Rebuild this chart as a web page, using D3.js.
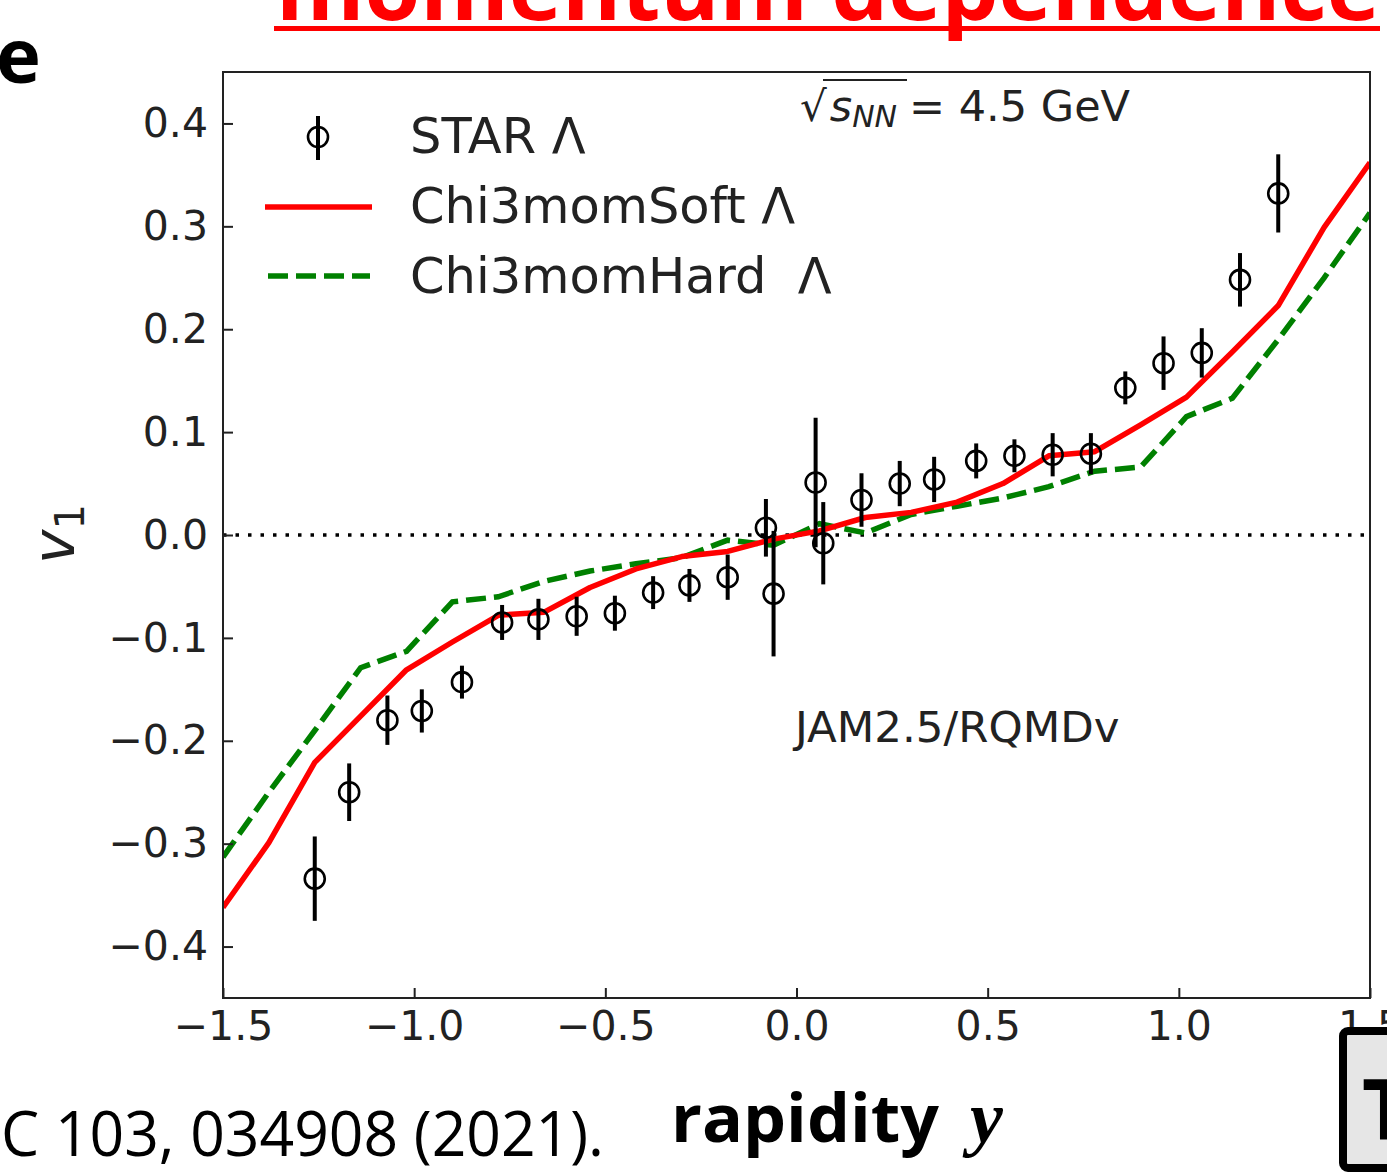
<!DOCTYPE html>
<html>
<head>
<meta charset="utf-8">
<script src="https://cdn.jsdelivr.net/npm/d3@7"></script>
<style>
  body { margin: 0; background: #fff; }
  svg { display: block; }
</style>
</head>
<body>
<div id="viz"></div>
<script>
// STAR Lambda v1 data
var starY   = [-1.26, -1.17, -1.07, -0.98, -0.875, -0.77, -0.675, -0.575, -0.475, -0.375, -0.28, -0.18, -0.08, -0.06,
               0.05, 0.07, 0.17, 0.27, 0.36, 0.47, 0.57, 0.67, 0.77, 0.86, 0.96, 1.06, 1.16, 1.26];
var starV1  = [-0.334, -0.250, -0.180, -0.171, -0.143, -0.085, -0.082, -0.079, -0.076, -0.056, -0.049, -0.041, 0.007, -0.057,
               0.051, -0.008, 0.034, 0.050, 0.054, 0.072, 0.077, 0.078, 0.079, 0.143, 0.167, 0.177, 0.248, 0.332];
var starErr = [0.041, 0.028, 0.024, 0.021, 0.016, 0.017, 0.020, 0.019, 0.017, 0.016, 0.016, 0.022, 0.028, 0.061,
               0.063, 0.040, 0.026, 0.022, 0.022, 0.017, 0.016, 0.021, 0.020, 0.016, 0.026, 0.024, 0.026, 0.038];

// model curves
var modelY = [-1.5, -1.38, -1.26, -1.14, -1.02, -0.9, -0.78, -0.66, -0.54, -0.42, -0.3, -0.18, -0.06,
              0.06, 0.18, 0.3, 0.42, 0.54, 0.66, 0.78, 0.9, 1.02, 1.14, 1.26, 1.38, 1.5];
var softV1 = [-0.362, -0.299, -0.221, -0.176, -0.131, -0.104, -0.078, -0.075, -0.051, -0.033, -0.021, -0.016, -0.004,
              0.004, 0.017, 0.022, 0.032, 0.050, 0.077, 0.081, 0.107, 0.134, 0.178, 0.223, 0.299, 0.362];
var hardV1 = [-0.313, -0.250, -0.190, -0.129, -0.113, -0.065, -0.060, -0.045, -0.035, -0.028, -0.022, -0.005, -0.010,
              0.011, 0.002, 0.020, 0.028, 0.036, 0.047, 0.062, 0.066, 0.115, 0.133, 0.190, 0.250, 0.313];

var xTicks = [-1.5, -1.0, -0.5, 0.0, 0.5, 1.0, 1.5];
var yTicks = [-0.4, -0.3, -0.2, -0.1, 0.0, 0.1, 0.2, 0.3, 0.4];

var W = 1387, H = 1176;
var L = 223, R = 1370, T = 72, B = 998;
var font = 'DejaVu Sans, sans-serif';
var slideFont = '"Open Sans", "Noto Sans", sans-serif';

var svg = d3.select('#viz').append('svg')
  .attr('width', W).attr('height', H);

svg.append('rect').attr('width', W).attr('height', H).attr('fill', '#fff');

var x = d3.scaleLinear().domain([-1.5, 1.5]).range([L, R]);
var y = d3.scaleLinear().domain([-0.45, 0.45]).range([B, T]);

// slide text around the plot
svg.append('text')
  .attr('x', 276).attr('y', 20)
  .attr('textLength', 1104).attr('lengthAdjust', 'spacingAndGlyphs')
  .style('font-family', slideFont).style('font-weight', 'bold')
  .style('font-size', '88px').attr('fill', '#ff0000')
  .text('momentum dependence');
svg.append('rect').attr('x', 274).attr('y', 26).attr('width', 1106).attr('height', 5).attr('fill', '#ff0000');

svg.append('text')
  .attr('x', -4).attr('y', 83)
  .style('font-family', slideFont).style('font-weight', 'bold')
  .style('font-size', '76px').attr('fill', '#000')
  .text('e');

svg.append('text')
  .attr('x', 1).attr('y', 1156)
  .attr('textLength', 603).attr('lengthAdjust', 'spacingAndGlyphs')
  .style('font-family', slideFont).style('font-size', '63px').attr('fill', '#000')
  .text('C 103, 034908 (2021).');

svg.append('text')
  .attr('x', 671).attr('y', 1142)
  .attr('textLength', 268).attr('lengthAdjust', 'spacingAndGlyphs')
  .style('font-family', slideFont).style('font-weight', 'bold')
  .style('font-size', '67px').attr('fill', '#000')
  .text('rapidity');
svg.append('text')
  .attr('x', 970).attr('y', 1142)
  .style('font-family', 'Liberation Serif, serif').style('font-weight', 'bold')
  .style('font-style', 'italic').style('font-size', '74px').attr('fill', '#000')
  .text('y');

// clip for curves
svg.append('clipPath').attr('id', 'plotclip')
  .append('rect').attr('x', L).attr('y', T).attr('width', R - L).attr('height', B - T);

// zero line
svg.append('line')
  .attr('x1', L).attr('x2', R).attr('y1', y(0)).attr('y2', y(0))
  .attr('stroke', '#000').attr('stroke-width', 3.5)
  .attr('stroke-dasharray', '3.5,9');

var line = d3.line()
  .x(function(d) { return x(d[0]); })
  .y(function(d) { return y(d[1]); });

var curves = svg.append('g').attr('clip-path', 'url(#plotclip)');

curves.append('path')
  .datum(modelY.map(function(v, i) { return [v, hardV1[i]]; }))
  .attr('d', line)
  .attr('fill', 'none').attr('stroke', '#008000').attr('stroke-width', 5.5)
  .attr('stroke-dasharray', '20,8');

curves.append('path')
  .datum(modelY.map(function(v, i) { return [v, softV1[i]]; }))
  .attr('d', line)
  .attr('fill', 'none').attr('stroke', '#ff0000').attr('stroke-width', 5.5)
  .attr('stroke-linejoin', 'round');

// STAR points
var pts = svg.append('g')
  .selectAll('g')
  .data(starY.map(function(v, i) { return { x: v, y: starV1[i], e: starErr[i] }; }))
  .enter()
  .append('g');

pts.append('line')
  .attr('x1', function(d) { return x(d.x); })
  .attr('x2', function(d) { return x(d.x); })
  .attr('y1', function(d) { return y(d.y - d.e); })
  .attr('y2', function(d) { return y(d.y + d.e); })
  .attr('stroke', '#000').attr('stroke-width', 4);

pts.append('circle')
  .attr('cx', function(d) { return x(d.x); })
  .attr('cy', function(d) { return y(d.y); })
  .attr('r', 10)
  .attr('fill', 'none').attr('stroke', '#000').attr('stroke-width', 2.6);

// axes
var fmt = d3.format('.1f');

var yAxis = svg.append('g')
  .attr('transform', 'translate(' + L + ',0)')
  .call(d3.axisLeft(y).tickValues(yTicks).tickFormat(fmt).tickSizeInner(-10).tickSizeOuter(0).tickPadding(15));

var xAxis = svg.append('g')
  .attr('transform', 'translate(0,' + B + ')')
  .call(d3.axisBottom(x).tickValues(xTicks).tickFormat(fmt).tickSizeInner(-10).tickSizeOuter(0).tickPadding(13));

[xAxis, yAxis].forEach(function(a) {
  a.select('.domain').remove();
  a.selectAll('line').attr('stroke', '#222').attr('stroke-width', 2);
  a.selectAll('text').style('font-family', font).style('font-size', '41px').attr('fill', '#222');
});

svg.append('rect')
  .attr('x', L).attr('y', T).attr('width', R - L).attr('height', B - T)
  .attr('fill', 'none').attr('stroke', '#222').attr('stroke-width', 2);

// y label
var yl = svg.append('text')
  .attr('transform', 'translate(74,534) rotate(-90)')
  .attr('text-anchor', 'middle')
  .style('font-family', font).style('font-size', '58px').attr('fill', '#222');
yl.append('tspan').style('font-style', 'italic').text('v');
yl.append('tspan').attr('dy', 10).style('font-size', '40px').text('1');

// sqrt(s_NN) annotation
var ann = svg.append('text')
  .attr('x', 800).attr('y', 121)
  .style('font-family', font).style('font-size', '43px').attr('fill', '#222');
ann.append('tspan').style('font-size', '42px').text('√');
ann.append('tspan').attr('dx', 3).style('font-style', 'italic').text('s');
ann.append('tspan').attr('dy', 6).style('font-style', 'italic').style('font-size', '30px').text('NN');
ann.append('tspan').attr('dy', -6).attr('dx', 12).text('= 4.5 GeV');
svg.append('line')
  .attr('x1', 823).attr('x2', 907).attr('y1', 80).attr('y2', 80)
  .attr('stroke', '#222').attr('stroke-width', 2);

svg.append('text')
  .attr('x', 795).attr('y', 742)
  .style('font-family', font).style('font-size', '43.5px').attr('fill', '#222')
  .text('JAM2.5/RQMDv');

// legend
var leg = svg.append('g');
leg.append('line').attr('x1', 318).attr('x2', 318).attr('y1', 116).attr('y2', 160)
  .attr('stroke', '#000').attr('stroke-width', 4);
leg.append('circle').attr('cx', 318).attr('cy', 137).attr('r', 10)
  .attr('fill', 'none').attr('stroke', '#000').attr('stroke-width', 2.6);
leg.append('line').attr('x1', 265).attr('x2', 372).attr('y1', 207).attr('y2', 207)
  .attr('stroke', '#ff0000').attr('stroke-width', 5.5);
leg.append('line').attr('x1', 268).attr('x2', 370).attr('y1', 276).attr('y2', 276)
  .attr('stroke', '#008000').attr('stroke-width', 5.5).attr('stroke-dasharray', '20,8');

var legLabels = ['STAR Λ', 'Chi3momSoft Λ', 'Chi3momHard  Λ'];
leg.selectAll('text.lab')
  .data(legLabels)
  .enter()
  .append('text')
  .attr('class', 'lab')
  .attr('x', 410)
  .attr('y', function(d, i) { return 153 + i * 70; })
  .attr('xml:space', 'preserve')
  .style('white-space', 'pre')
  .style('font-family', font).style('font-size', '49.5px').attr('fill', '#222')
  .text(function(d) { return d; });

// box at bottom right of the slide
svg.append('rect')
  .attr('x', 1343).attr('y', 1031).attr('width', 80).attr('height', 137).attr('rx', 5)
  .attr('fill', '#e6e6e6').attr('stroke', '#000').attr('stroke-width', 8);
svg.append('text')
  .attr('x', 1362).attr('y', 1140)
  .style('font-family', slideFont).style('font-weight', 'bold').style('font-size', '84px').attr('fill', '#000')
  .text('T');
</script>
</body>
</html>
